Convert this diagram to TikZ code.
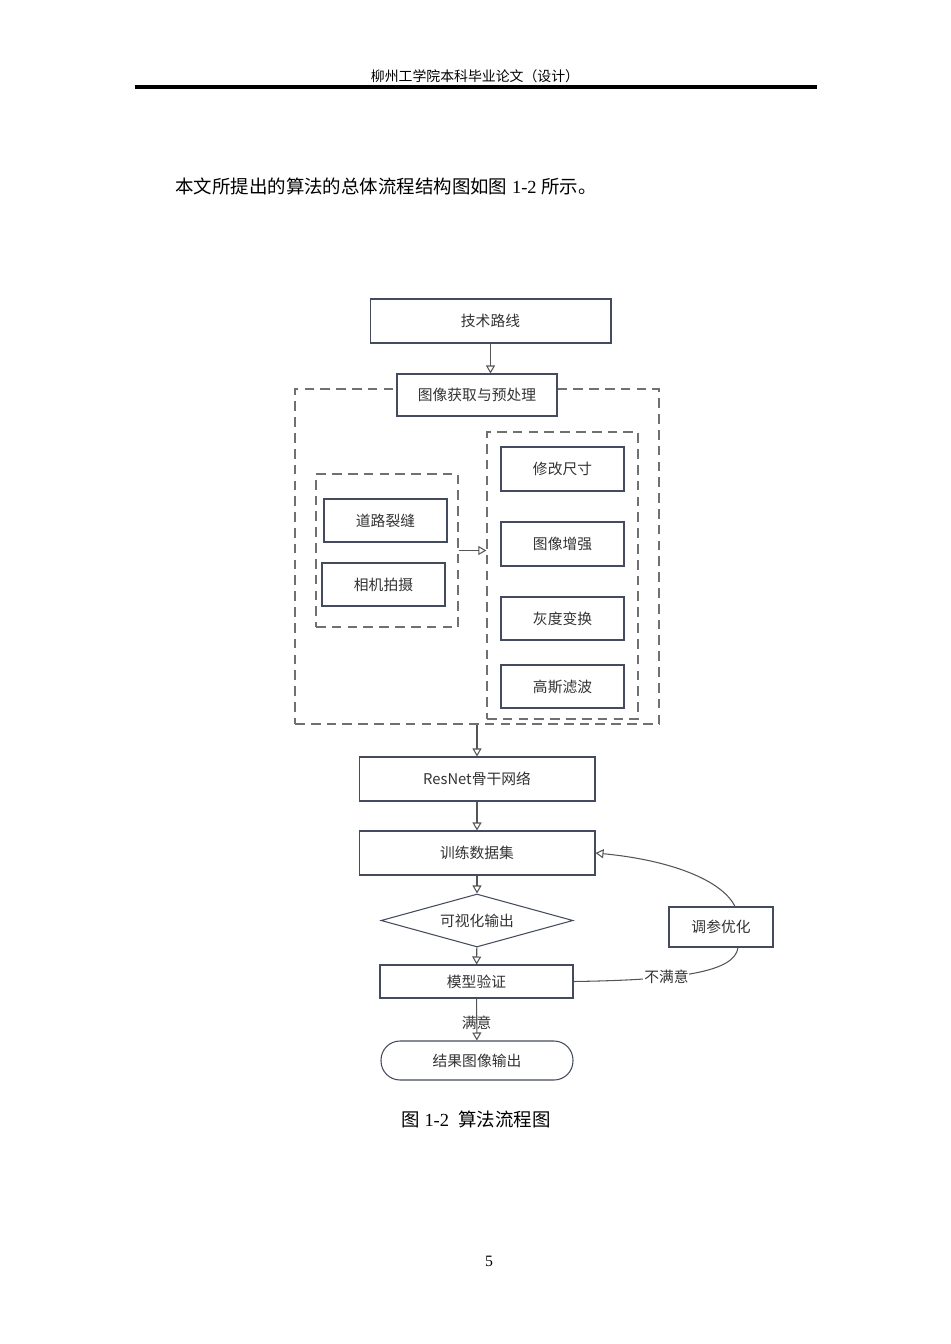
\documentclass[tikz,border=0pt]{standalone}
\usepackage{fontspec}
\setmainfont{Liberation Serif}
\newfontfamily\cjk{Noto Sans CJK SC}
\usetikzlibrary{arrows.meta, positioning, shapes.geometric}

\definecolor{boxline}{HTML}{454B5E}
\definecolor{arrowline}{HTML}{555555}
\definecolor{dashline}{HTML}{707070}
\definecolor{labeltext}{HTML}{333333}

\begin{document}
\begin{tikzpicture}[x=0.02cm, y=-0.02cm,
	box/.style={draw=boxline, line width=0.6pt, fill=white, inner sep=0pt, text=labeltext, font=\cjk\fontsize{8.4}{10}\selectfont},
	group/.style={draw=dashline, line width=0.8pt, dash pattern=on 5.5pt off 3.5pt, inner sep=0pt},
	flow/.style={draw=arrowline, line width=0.6pt, -{Triangle[open, length=0.16cm, width=0.18cm]}},
	plain/.style={draw=arrowline, line width=0.6pt}]
	\useasboundingbox (0,0) rectangle (950,1344);
	
	% Page header and text
	\node[font=\cjk\fontsize{7.9}{9}\selectfont] (header) at (475,76) {柳州工学院本科毕业论文（设计）};
	\draw[line width=2.2pt] (135,87) -- (817,87);
	\node[anchor=west, inner sep=0pt, font=\fontsize{10.5}{12}\selectfont] (intro) at (175,186) {{\cjk 本文所提出的算法的总体流程结构图如图} 1-2 {\cjk 所示。}};
	
	% Dashed groups
	\node[group, minimum width=7.28cm, minimum height=6.7cm] (pre) at (477,556.5) {};
	\node[group, minimum width=3.02cm, minimum height=5.74cm] (ops) at (562.5,575.5) {};
	\node[group, minimum width=2.84cm, minimum height=3.06cm] (src) at (387,550.5) {};
	
	% Define nodes
	\node[box, minimum width=4.82cm, minimum height=0.88cm] (route) at (490.5,321) {技术路线};
	\node[box, minimum width=3.2cm, minimum height=0.84cm] (prep) at (477,395) {图像获取与预处理};
	\node[box, minimum width=2.46cm, minimum height=0.88cm] (resize) at (562.5,469) {修改尺寸};
	\node[box, minimum width=2.46cm, minimum height=0.88cm] (enhance) at (562.5,544) {图像增强};
	\node[box, minimum width=2.46cm, minimum height=0.86cm] (gray) at (562.5,618.5) {灰度变换};
	\node[box, minimum width=2.46cm, minimum height=0.86cm] (gauss) at (562.5,686.5) {高斯滤波};
	\node[box, minimum width=2.46cm, minimum height=0.86cm] (crack) at (385.5,520.5) {道路裂缝};
	\node[box, minimum width=2.46cm, minimum height=0.86cm] (camera) at (383.5,584.5) {相机拍摄};
	\node[box, minimum width=4.72cm, minimum height=0.88cm] (resnet) at (477,779) {ResNet骨干网络};
	\node[box, minimum width=4.72cm, minimum height=0.88cm] (train) at (477,853) {训练数据集};
	\node[box, diamond, aspect=3.6, minimum width=3.84cm, minimum height=1.06cm] (visual) at (477,920.5) {可视化输出};
	\node[box, minimum width=3.86cm, minimum height=0.66cm] (check) at (476.5,981.5) {模型验证};
	\node[box, rounded corners=0.38cm, minimum width=3.84cm, minimum height=0.78cm] (result) at (477,1060.5) {结果图像输出};
	\node[box, minimum width=2.08cm, minimum height=0.8cm] (tune) at (721,927) {调参优化};
	
	% Arrows
	\draw[flow] (route.south) -- (route.south |- prep.north);
	\draw[flow] (src.east) -- (ops.west |- src.east);
	\draw[flow] (pre.south) -- (resnet);
	\draw[flow] (resnet) -- (train);
	\draw[flow] (train) -- (visual);
	\draw[flow] (visual) -- (check);
	\draw[flow] (check) -- node[text=labeltext, font=\cjk\fontsize{8.4}{10}\selectfont, yshift=-0.06cm] {满意} (result);
	
	% Feedback loop
	\draw[plain] (check.east) .. controls (680,980) and (735,972) .. node[pos=0.35, fill=white, inner sep=0.5pt, text=labeltext, font=\cjk\fontsize{8.4}{10}\selectfont] {不满意} ([xshift=0.34cm]tune.south);
	\draw[flow] ([xshift=0.28cm]tune.north) .. controls (722,880) and (670,860) .. (train.east);
	
	% Caption and page number
	\node[font=\fontsize{10.5}{12}\selectfont] (caption) at (476,1119) {{\cjk 图} 1-2\enspace{\cjk 算法流程图}};
	\node[font=\fontsize{9}{10}\selectfont] (page) at (489,1261) {5};
\end{tikzpicture}
\end{document}
